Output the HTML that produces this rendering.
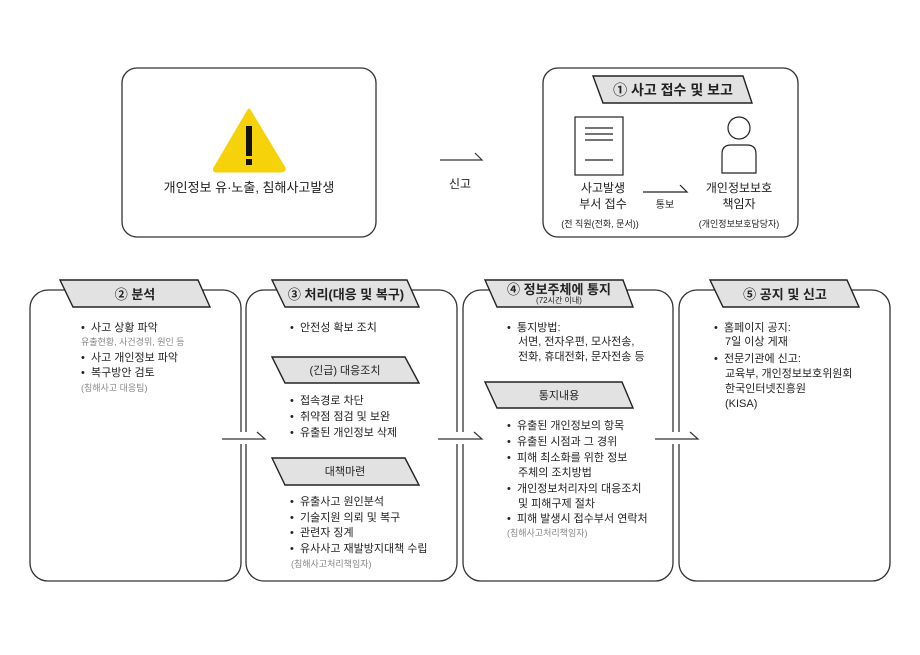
<!DOCTYPE html>
<html><head><meta charset="utf-8"><style>
html,body{margin:0;padding:0;background:#fff;}
svg text{font-family:"Liberation Sans","Noto Sans CJK KR",sans-serif;fill:#222;}
.b{font-weight:bold}
.g{fill:#888 !important;font-size:9px}
</style></head><body>
<svg width="920" height="650" viewBox="0 0 920 650" xmlns="http://www.w3.org/2000/svg">
<g fill="none" stroke="#333" stroke-width="1.3">
<rect x="122" y="68" width="254" height="169" rx="15"/>
<rect x="543" y="68" width="255" height="169" rx="15"/>
<rect x="30" y="290" width="211" height="291" rx="18"/>
<rect x="246" y="290" width="211" height="291" rx="18"/>
<rect x="463" y="290" width="210" height="291" rx="18"/>
<rect x="679" y="290" width="211" height="291" rx="18"/>
</g>
<!-- warning -->
<path d="M249 110 L284 168 Q285 171 281 171 L217 171 Q213 171 215 168 Z" fill="#F5D20A" stroke="#F5D20A" stroke-width="3" stroke-linejoin="round"/>
<rect x="246" y="126" width="6" height="30" fill="#111"/>
<rect x="246" y="159" width="6" height="6" fill="#111"/>
<text x="249" y="192" font-size="13" text-anchor="middle">개인정보 유·노출, 침해사고발생</text>
<!-- arrow 신고 -->
<g stroke="#333" stroke-width="1.2" fill="none"><path d="M440 160 H482 L475 153"/></g>
<text x="460" y="188" font-size="12" text-anchor="middle">신고</text>
<!-- parallelograms -->
<g fill="#e2e2e2" stroke="#222" stroke-width="1.4">
<path d="M593 76 H743 L752 103 H603 Z"/>
<path d="M60 280 H198 L210 307 H73 Z"/>
<path d="M272 280 H407 L419 307 H285 Z"/>
<path d="M485 280 H623 L633 307 H497 Z"/>
<path d="M710 280 H847 L859 307 H723 Z"/>
<path d="M272 357 H405 L419 383 H285 Z"/>
<path d="M272 458 H405 L419 485 H285 Z"/>
<path d="M485 382 H622 L633 408 H497 Z"/>
</g>
<text x="673" y="95" font-size="14" class="b" text-anchor="middle">① 사고 접수 및 보고</text>
<text x="135" y="299" font-size="13" class="b" text-anchor="middle">② 분석</text>
<text x="346" y="299" font-size="13" class="b" text-anchor="middle">③ 처리(대응 및 복구)</text>
<text x="559" y="294" font-size="13" class="b" text-anchor="middle">④ 정보주체에 통지</text>
<text x="559" y="303" font-size="8" text-anchor="middle" fill="#555">(72시간 이내)</text>
<text x="785" y="299" font-size="13" class="b" text-anchor="middle">⑤ 공지 및 신고</text>
<text x="345" y="374" font-size="11" text-anchor="middle">(긴급) 대응조치</text>
<text x="345" y="475" font-size="11" text-anchor="middle">대책마련</text>
<text x="559" y="399" font-size="11" text-anchor="middle">통지내용</text>
<!-- doc & person -->
<g fill="none" stroke="#222" stroke-width="1.2">
<rect x="575" y="117" width="48" height="58"/>
<path d="M585 128 H613 M585 134 H613 M585 140 H613 M585 160 H613"/>
<circle cx="739" cy="128" r="11"/>
<path d="M722 173 V154 Q722 145 731 145 H747 Q756 145 756 154 V173 Z"/>
<path d="M643 192 H687 L680 185"/>
</g>
<text x="603" y="192" font-size="12" text-anchor="middle">사고발생</text>
<text x="603" y="208" font-size="12" text-anchor="middle">부서 접수</text>
<text x="600" y="227" font-size="9" text-anchor="middle" fill="#444">(전 직원(전화, 문서))</text>
<text x="739" y="192" font-size="12" text-anchor="middle">개인정보보호</text>
<text x="739" y="208" font-size="12" text-anchor="middle">책임자</text>
<text x="739" y="227" font-size="9" text-anchor="middle" fill="#444">(개인정보보호담당자)</text>
<text x="665" y="208" font-size="10" text-anchor="middle">통보</text>
<!-- connectors -->
<g fill="#fff" stroke="none">
<rect x="238" y="432" width="10" height="12"/>
<rect x="455" y="432" width="10" height="12"/>
<rect x="671" y="432" width="10" height="12"/>
</g>
<g stroke="#333" stroke-width="1.2" fill="none">
<path d="M222 439 H265 L257 432"/>
<path d="M438 439 H482 L474 432"/>
<path d="M655 439 H698 L690 432"/>
</g>
<!-- box2 -->
<g font-size="11">
<text x="81" y="331">•&#160; 사고 상황 파악</text>
<text x="81" y="345" class="g">유출현황, 사건경위, 원인 등</text>
<text x="81" y="361">•&#160; 사고 개인정보 파악</text>
<text x="81" y="376">•&#160; 복구방안 검토</text>
<text x="81" y="391" class="g">(침해사고 대응팀)</text>
<!-- box3 -->
<text x="290" y="331">•&#160; 안전성 확보 조치</text>
<text x="290" y="404">•&#160; 접속경로 차단</text>
<text x="290" y="420">•&#160; 취약점 점검 및 보완</text>
<text x="290" y="436">•&#160; 유출된 개인정보 삭제</text>
<text x="290" y="505">•&#160; 유출사고 원인분석</text>
<text x="290" y="521">•&#160; 기술지원 의뢰 및 복구</text>
<text x="290" y="536">•&#160; 관련자 징계</text>
<text x="290" y="552">•&#160; 유사사고 재발방지대책 수립</text>
<text x="291" y="567" class="g">(침해사고처리책임자)</text>
<!-- box4 -->
<text x="507" y="331">•&#160; 통지방법:</text>
<text x="518" y="345">서면, 전자우편, 모사전송,</text>
<text x="518" y="360">전화, 휴대전화, 문자전송 등</text>
<text x="507" y="429">•&#160; 유출된 개인정보의 항목</text>
<text x="507" y="445">•&#160; 유출된 시점과 그 경위</text>
<text x="507" y="461">•&#160; 피해 최소화를 위한 정보</text>
<text x="518" y="476">주체의 조치방법</text>
<text x="507" y="492">•&#160; 개인정보처리자의 대응조치</text>
<text x="518" y="507">및 피해구제 절차</text>
<text x="507" y="522">•&#160; 피해 발생시 접수부서 연락처</text>
<text x="507" y="536" class="g">(침해사고처리책임자)</text>
<!-- box5 -->
<text x="714" y="331">•&#160; 홈페이지 공지:</text>
<text x="725" y="345">7일 이상 게재</text>
<text x="714" y="362">•&#160; 전문기관에 신고:</text>
<text x="725" y="377">교육부, 개인정보보호위원회</text>
<text x="725" y="392">한국인터넷진흥원</text>
<text x="725" y="407">(KISA)</text>
</g>
</svg>
</body></html>
